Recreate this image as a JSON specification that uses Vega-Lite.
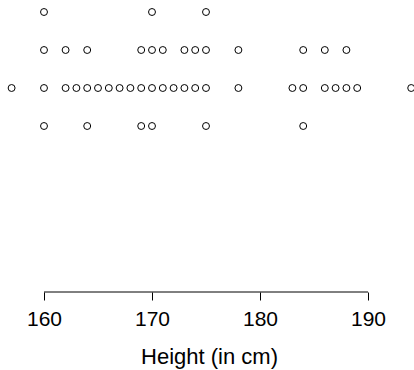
{
  "$schema": "https://vega.github.io/schema/vega-lite/v6.json",
  "width": 414,
  "height": 292,
  "autosize": "none",
  "padding": {"left": 0, "top": 0, "right": 0, "bottom": 78},
  "background": "white",
  "config": {"view": {"stroke": null}},
  "layer": [
    {
      "data": {"values": [{"from": 160, "to": 190}]},
      "mark": {"type": "rule", "color": "black", "strokeWidth": 1},
      "encoding": {
        "x": {
          "field": "from", "type": "quantitative",
          "scale": {"domain": [155.926, 194.259], "nice": false, "zero": false},
          "axis": {
            "values": [160, 170, 180, 190],
            "domain": false, "grid": false,
            "ticks": true, "tickSize": 8, "tickColor": "black", "tickWidth": 1,
            "labelFont": "Liberation Sans", "labelFontSize": 21, "labelColor": "black",
            "labelBaseline": "alphabetic", "labelPadding": 25, "labelFlush": false, "labelOverlap": false,
            "title": "Height (in cm)",
            "titleFont": "Liberation Sans", "titleFontSize": 22, "titleFontWeight": "normal", "titleColor": "black",
            "titleBaseline": "alphabetic", "titleY": 71, "titleX": 209
          }
        },
        "x2": {"field": "to"},
        "y": {"datum": -3.368, "type": "quantitative", "scale": {"domain": [-3.368, 4.316], "nice": false, "zero": false}, "axis": null}
      }
    },
    {
      "data": {"values": [
        {"height": 160, "row": 4}, {"height": 170, "row": 4}, {"height": 175, "row": 4},
        {"height": 160, "row": 3}, {"height": 162, "row": 3}, {"height": 164, "row": 3}, {"height": 169, "row": 3}, {"height": 170, "row": 3}, {"height": 171, "row": 3}, {"height": 173, "row": 3}, {"height": 174, "row": 3}, {"height": 175, "row": 3}, {"height": 178, "row": 3}, {"height": 184, "row": 3}, {"height": 186, "row": 3}, {"height": 188, "row": 3},
        {"height": 157, "row": 2}, {"height": 160, "row": 2}, {"height": 162, "row": 2}, {"height": 163, "row": 2}, {"height": 164, "row": 2}, {"height": 165, "row": 2}, {"height": 166, "row": 2}, {"height": 167, "row": 2}, {"height": 168, "row": 2}, {"height": 169, "row": 2}, {"height": 170, "row": 2}, {"height": 171, "row": 2}, {"height": 172, "row": 2}, {"height": 173, "row": 2}, {"height": 174, "row": 2}, {"height": 175, "row": 2}, {"height": 178, "row": 2}, {"height": 183, "row": 2}, {"height": 184, "row": 2}, {"height": 186, "row": 2}, {"height": 187, "row": 2}, {"height": 188, "row": 2}, {"height": 189, "row": 2}, {"height": 194, "row": 2},
        {"height": 160, "row": 1}, {"height": 164, "row": 1}, {"height": 169, "row": 1}, {"height": 170, "row": 1}, {"height": 175, "row": 1}, {"height": 184, "row": 1}
      ]},
      "mark": {"type": "point", "shape": "circle", "filled": false, "color": "black", "strokeWidth": 1, "size": 48, "opacity": 1, "clip": false},
      "encoding": {
        "x": {"field": "height", "type": "quantitative", "scale": {"domain": [155.926, 194.259], "nice": false, "zero": false}},
        "y": {"field": "row", "type": "quantitative", "scale": {"domain": [-3.368, 4.316], "nice": false, "zero": false}, "axis": null}
      }
    }
  ]
}
